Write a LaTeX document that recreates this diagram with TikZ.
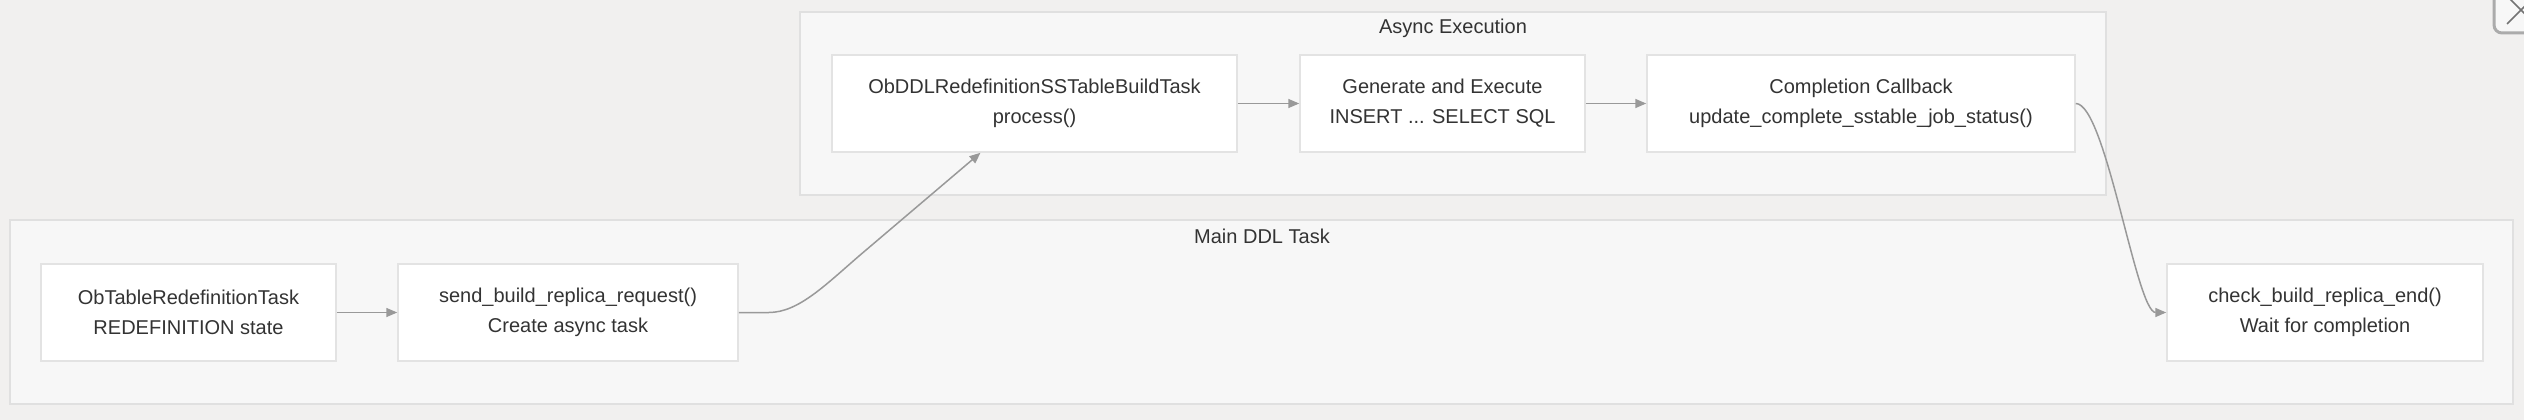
\documentclass[tikz,border=0pt]{standalone}
\usepackage{fontspec}
\setmainfont{Liberation Sans}
\usetikzlibrary{arrows.meta,calc}
\definecolor{bg}{HTML}{F1F0EF}
\definecolor{clfill}{HTML}{F7F7F7}
\definecolor{clline}{HTML}{E0E0E0}
\definecolor{ndline}{HTML}{E3E3E3}
\definecolor{txt}{HTML}{333333}
\definecolor{edge}{HTML}{999999}
\tikzset{
  box/.style={draw=ndline, line width=1.5pt, fill=white, minimum height=97pt, inner sep=0pt,
    text=txt, align=center, font=\fontsize{20pt}{30pt}\selectfont},
  cluster/.style={draw=clline, line width=1.5pt, fill=clfill},
  ctitle/.style={text=txt, font=\fontsize{20pt}{24pt}\selectfont, inner sep=0pt},
  conn/.style={draw=edge, line width=1.5pt, -{Triangle[length=11pt,width=9pt]}}
}
\begin{document}
\begin{tikzpicture}[x=1pt,y=-1pt]
\useasboundingbox (0,0) rectangle (2524,420);
\clip (0,0) rectangle (2524,420);
\fill[bg] (0,0) rectangle (2524,420);
% clusters
\path[cluster] (800,12) rectangle (2106,195);
\node[ctitle] (tasync) at (1453,28) {Async Execution};
\path[cluster] (10,220) rectangle (2513,404);
\node[ctitle] (tmain) at (1262,236) {Main DDL Task};
% nodes
\node[box, minimum width=295pt] (n1) at (188.5,312.5) {ObTableRedefinitionTask\\REDEFINITION state};
\node[box, minimum width=340pt] (n2) at (568,312.5) {send\_build\_replica\_request()\\Create async task};
\node[box, minimum width=405pt] (n3) at (1034.5,103.5) {ObDDLRedefinitionSSTableBuildTask\\process()};
\node[box, minimum width=285pt] (n4) at (1442.5,103.5) {Generate and Execute\\INSERT ... SELECT SQL};
\node[box, minimum width=428pt] (n5) at (1861,103.5) {Completion Callback\\update\_complete\_sstable\_job\_status()};
\node[box, minimum width=316pt] (n6) at (2325,312.5) {check\_build\_replica\_end()\\Wait for completion};
% connectors
\draw[conn] (n1) -- (n2);
\draw[conn] (n2.east) -- ++(30,0) .. controls +(30,0) and +(-35,30) .. ++(92,-58) -- ($(n3.south)+(-54,0)$);
\draw[conn] (n3) -- (n4);
\draw[conn] (n4) -- (n5);
\draw[conn] (n5.east) .. controls +(30,0) and +(-30,0) .. (n6.west);
% window close button (partial)
\draw[line width=3pt, draw=black!33, fill=clfill, rounded corners=8pt] (2494,-20) rectangle (2550,33);
\draw[line width=1.5pt, draw=black!55] (2507,24) -- (2535,-4);
\draw[line width=1.5pt, draw=black!55] (2507,-4) -- (2535,24);
\end{tikzpicture}
\end{document}
